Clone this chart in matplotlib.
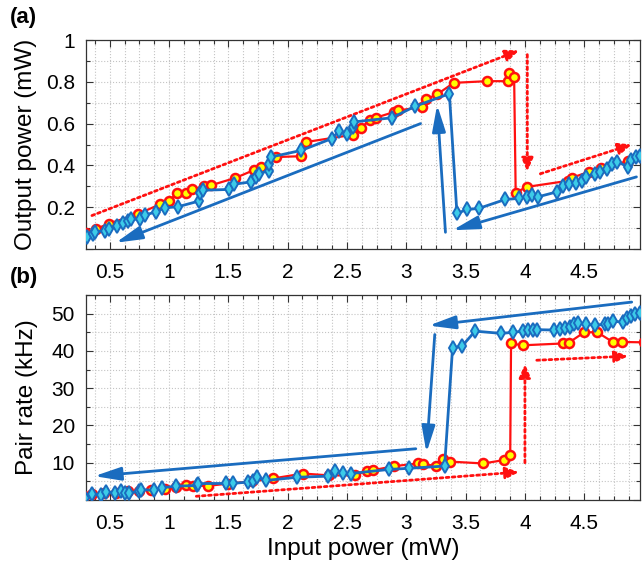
import numpy as np
import matplotlib
matplotlib.use("Agg")
import matplotlib.pyplot as plt
from matplotlib.ticker import MultipleLocator, FuncFormatter

# ---- panel (a): output power vs input power ----
up_a_x = [0.304, 0.382, 0.494, 0.738, 0.92, 0.996, 1.066, 1.139, 1.195, 1.298,
          1.354, 1.559, 1.713, 1.775, 1.90, 2.116, 2.158, 2.553, 2.615, 2.69,
          2.741, 2.895, 2.931, 3.133, 3.167, 3.26, 3.40, 3.68, 3.855, 3.867,
          3.909, 3.922, 4.015, 4.36, 4.40, 4.54, 4.645, 4.87]
up_a_y = [0.075, 0.095, 0.122, 0.167, 0.213, 0.229, 0.266, 0.27, 0.286, 0.30,
          0.305, 0.34, 0.377, 0.393, 0.44, 0.444, 0.512, 0.547, 0.579, 0.615,
          0.628, 0.655, 0.663, 0.679, 0.716, 0.74, 0.795, 0.803, 0.803, 0.843,
          0.822, 0.27, 0.297, 0.326, 0.342, 0.369, 0.388, 0.421]

down_a_x = [0.309, 0.36, 0.38, 0.458, 0.494, 0.561, 0.612, 0.654, 0.682, 0.752,
            0.794, 0.892, 0.962, 1.074, 1.256, 1.262, 1.284, 1.503, 1.55, 1.69,
            1.733, 1.76, 1.839, 1.845, 1.859, 2.116, 2.371, 2.433, 2.50, 2.55,
            2.559, 2.881, 3.071, 3.363, 3.427, 3.511, 3.61, 3.834, 3.946, 4.015,
            4.063, 4.113, 4.267, 4.324, 4.371, 4.427, 4.477, 4.519, 4.59, 4.63,
            4.696, 4.735, 4.78, 4.87, 4.897, 4.94, 4.968]
down_a_y = [0.056, 0.072, 0.083, 0.087, 0.095, 0.111, 0.126, 0.135, 0.143, 0.142,
            0.162, 0.178, 0.197, 0.202, 0.23, 0.266, 0.281, 0.285, 0.31, 0.321,
            0.345, 0.361, 0.374, 0.409, 0.44, 0.472, 0.528, 0.564, 0.552, 0.583,
            0.608, 0.628, 0.682, 0.743, 0.17, 0.189, 0.194, 0.237, 0.242, 0.25,
            0.258, 0.25, 0.273, 0.30, 0.31, 0.316, 0.326, 0.345, 0.361, 0.369,
            0.385, 0.409, 0.417, 0.393, 0.425, 0.44, 0.444]

# ---- panel (b): pair rate vs input power ----
up_b_x = [0.28, 0.35, 0.45, 0.55, 0.65, 0.75, 0.85, 0.97, 1.06, 1.14, 1.2,
          1.33, 1.5, 1.7, 1.88, 2.13, 2.35, 2.57, 2.67, 2.72, 2.9, 3.1, 3.14,
          3.25, 3.31, 3.37, 3.65, 3.82, 3.876, 3.883, 3.98, 4.32, 4.37, 4.50,
          4.61, 4.74, 4.82, 5.0]
up_b_y = [1.05, 1.5, 1.8, 2.0, 2.3, 2.5, 2.7, 3.0, 3.4, 4.0, 3.8, 3.8, 4.4,
          5.0, 5.8, 7.1, 6.6, 6.6, 7.9, 8.0, 9.1, 9.8, 9.7, 9.1, 10.9, 10.3,
          9.8, 10.7, 12.2, 42.0, 41.5, 42.0, 42.2, 45.0, 45.0, 42.4, 42.4, 42.3]

down_b_x = [0.29, 0.351, 0.43, 0.472, 0.542, 0.592, 0.626, 0.662, 0.744, 0.766,
            0.87, 0.943, 1.055, 1.237, 1.242, 1.48, 1.536, 1.662, 1.704, 1.741,
            1.817, 2.082, 2.343, 2.399, 2.469, 2.53, 2.853, 3.02, 3.323, 3.39,
            3.47, 3.58, 3.80, 3.903, 3.987, 4.029, 4.07, 4.10, 4.248, 4.296,
            4.338, 4.38, 4.416, 4.444, 4.519, 4.59, 4.674, 4.70, 4.74, 4.824,
            4.86, 4.894, 4.93, 4.97]
down_b_y = [0.6, 1.7, 1.3, 2.1, 1.95, 2.4, 1.8, 1.8, 2.4, 2.8,
            2.6, 3.3, 3.7, 3.9, 4.4, 4.45, 4.45, 4.8, 5.1, 6.2,
            5.25, 6.1, 6.4, 7.9, 7.3, 7.1, 8.2, 8.5, 9.1, 40.8,
            41.3, 45.3, 44.7, 45.0, 45.3, 45.6, 45.7, 45.7, 45.6, 45.9,
            46.2, 46.5, 47.1, 47.5, 47.1, 46.9, 47.1, 47.3, 48.0, 47.7,
            48.9, 49.5, 50.0, 50.2]

# sweep arrows: (start, tip)
blue_arrows_a = [((3.12, 0.60), (0.55, 0.03)),
                 ((3.33, 0.08), (3.26, 0.69)),
                 ((4.94, 0.345), (3.39, 0.09))]
red_arrows_a = [((0.35, 0.16), (3.95, 0.95)),
                ((4.02, 0.93), (4.02, 0.37)),
                ((4.13, 0.36), (4.90, 0.50))]
blue_arrows_b = [((4.90, 53.1), (3.19, 46.8)),
                 ((3.24, 44.4), (3.17, 12.7)),
                 ((3.08, 13.75), (0.37, 6.4))]
red_arrows_b = [((1.23, 1.0), (3.95, 7.5)),
                ((4.00, 10.0), (4.00, 36.5)),
                ((4.10, 37.5), (4.87, 38.6))]

RED = "#ff1010"
BLUE = "#1a6cbf"
CYAN = "#3ccbe8"

plt.rcParams['font.family'] = ['Liberation Sans', 'DejaVu Sans']


def tick_fmt(v, p):
    if abs(v) < 1e-9:
        return ''
    return "%g" % round(v, 3)


def style_axes(ax, ymaj, ymin, ylim):
    ax.set_xlim(0.3, 4.97)
    ax.set_ylim(*ylim)
    ax.xaxis.set_major_locator(MultipleLocator(0.5))
    ax.xaxis.set_minor_locator(MultipleLocator(0.125))
    ax.yaxis.set_major_locator(MultipleLocator(ymaj))
    ax.yaxis.set_minor_locator(MultipleLocator(ymin))
    ax.xaxis.set_major_formatter(FuncFormatter(tick_fmt))
    ax.yaxis.set_major_formatter(FuncFormatter(tick_fmt))
    ax.grid(True, which='both', linestyle=':', color='#c4c4c4', linewidth=0.8)
    ax.set_axisbelow(True)
    ax.tick_params(which='both', direction='in', top=True, right=True,
                   width=0.8, color='#333333', labelsize=15)
    ax.tick_params(which='major', length=5)
    ax.tick_params(which='minor', length=3)
    ax.tick_params(axis='x', pad=10)
    ax.tick_params(axis='y', pad=8)
    for s in ax.spines.values():
        s.set_color('#333333')
        s.set_linewidth(0.9)


def draw_arrows(ax, blue, red):
    for (x0, y0), (x1, y1) in blue:
        ax.annotate('', xy=(x1, y1), xytext=(x0, y0),
                    arrowprops=dict(arrowstyle='-|>,head_length=1.6,head_width=0.4',
                                    color=BLUE, lw=2, shrinkA=0, shrinkB=0))
    for (x0, y0), (x1, y1) in red:
        ax.annotate('', xy=(x1, y1), xytext=(x0, y0),
                    arrowprops=dict(arrowstyle='-|>,head_length=0.8,head_width=0.35',
                                    color=RED, lw=2, linestyle=(0, (1, 1.2)),
                                    shrinkA=0, shrinkB=0))


def main():
    fig = plt.figure(figsize=(6.42, 5.76), dpi=100)
    ax_a = fig.add_axes([86 / 642, 1 - 249 / 576, 554 / 642, 209 / 576])
    ax_b = fig.add_axes([86 / 642, 1 - 500 / 576, 554 / 642, 205 / 576])

    # (a)
    ax_a.plot(up_a_x, up_a_y, '-o', color=RED, lw=1.6, ms=6.5,
              mfc='#ffff00', mec=RED, mew=1.8, zorder=3)
    ax_a.plot(down_a_x, down_a_y, '-d', color=BLUE, lw=2, ms=7,
              mfc=CYAN, mec=BLUE, mew=1.4, zorder=4)
    draw_arrows(ax_a, blue_arrows_a, red_arrows_a)
    style_axes(ax_a, 0.2, 0.1, (0, 1))
    ax_a.set_ylabel('Output power (mW)', fontsize=17.5, labelpad=6)

    # (b)
    ax_b.plot(up_b_x, up_b_y, '-o', color=RED, lw=1.6, ms=6.5,
              mfc='#ffff00', mec=RED, mew=1.8, zorder=3)
    ax_b.plot(down_b_x, down_b_y, '-d', color=BLUE, lw=2, ms=7,
              mfc=CYAN, mec=BLUE, mew=1.4, zorder=4)
    draw_arrows(ax_b, blue_arrows_b, red_arrows_b)
    style_axes(ax_b, 10, 5, (0, 55))
    ax_b.set_ylabel('Pair rate (kHz)', fontsize=17.5, labelpad=10)
    ax_b.set_xlabel('Input power (mW)', fontsize=17.5, labelpad=4)

    fig.text(23 / 642, 1 - 18 / 576, '(a)', fontsize=16, fontweight='bold',
             ha='center', va='center')
    fig.text(24 / 642, 1 - 277 / 576, '(b)', fontsize=16, fontweight='bold',
             ha='center', va='center')

    fig.savefig('out.png', dpi=100)


if __name__ == '__main__':
    main()
